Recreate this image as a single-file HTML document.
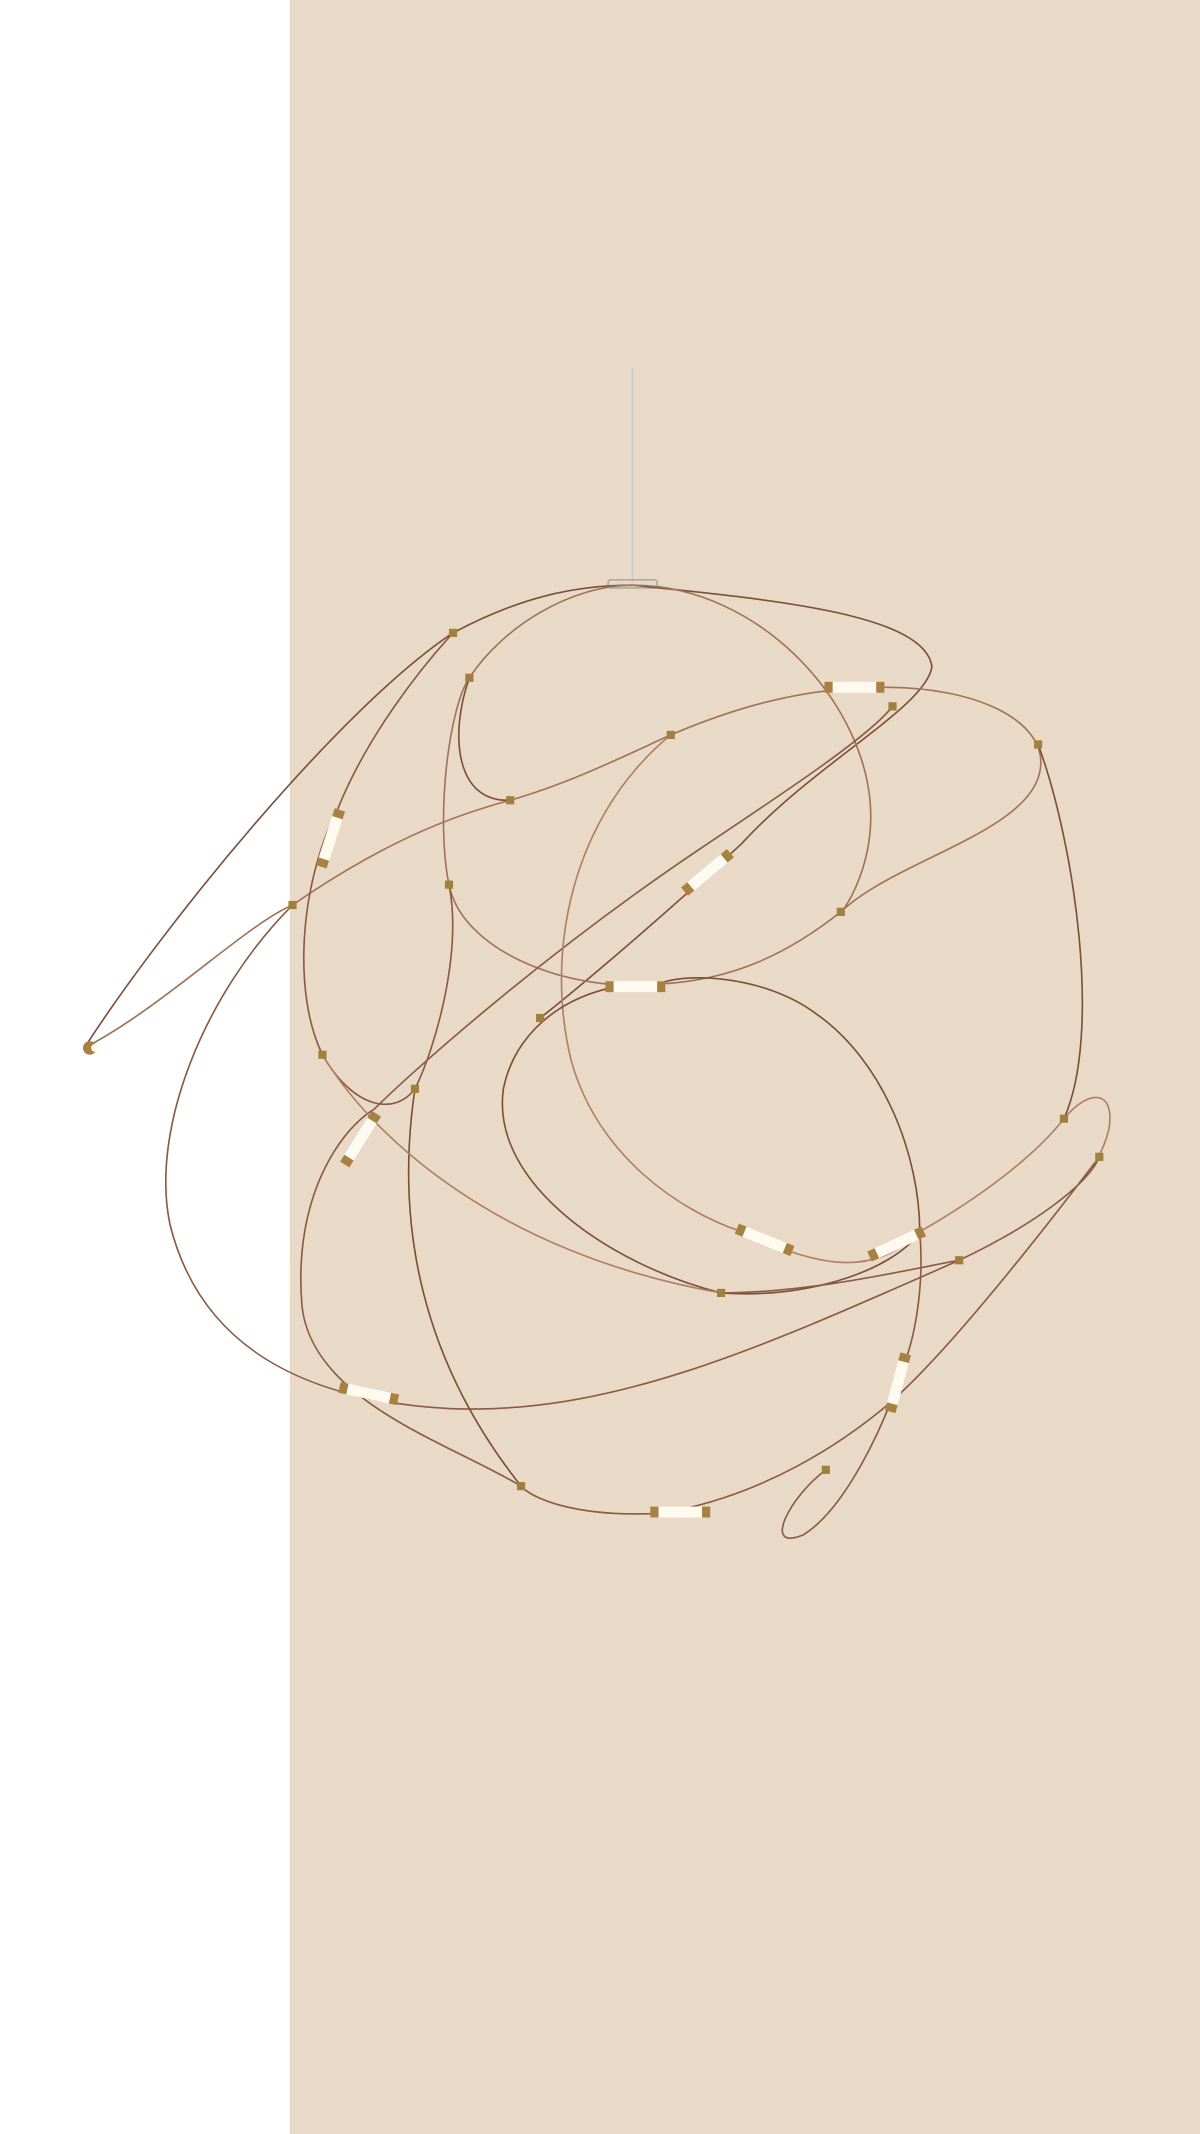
<!DOCTYPE html>
<html><head><meta charset="utf-8"><style>
html,body{margin:0;padding:0;width:1200px;height:2134px;background:#fff;overflow:hidden}
svg{display:block}
</style></head><body>
<svg width="1200" height="2134" viewBox="0 0 882 1568" preserveAspectRatio="none">
<rect x="0" y="0" width="882" height="1568" fill="#ffffff"/>
<rect x="213" y="0" width="669" height="1568" fill="#e8dac7"/>
<line x1="465" y1="270" x2="465" y2="428" stroke="#c9ced3" stroke-width="1.2"/>
<rect x="447" y="426" width="36" height="6" rx="2" fill="none" stroke="#a9a9a9" stroke-width="1.2"/>
<g fill="none" stroke-width="1.2" stroke-linecap="round">
<path stroke="#7a5038" d="M62,770 C120,680 250,520 333,465 C380,440 420,430 465,430 C560,440 680,450 685,490 C680,520 600,560 545,620 C480,680 420,730 397,748"/>
<path stroke="#a27258" d="M62,770 C120,740 180,680 215,665 C280,620 330,600 375,588 C420,575 460,555 493,540 C540,520 590,505 650,505 C720,505 765,530 765,560 C765,610 660,630 618,670 C580,700 540,720 485,723 C420,730 340,700 330,650 C320,600 330,520 345,498 C370,460 420,430 465,430 C560,430 640,520 640,600 C640,640 620,670 618,670"/>
<path stroke="#8a5a42" d="M215,665 C150,730 110,830 125,900 C150,1000 240,1030 330,1035 C450,1040 560,990 705,926 C760,900 800,870 808,850 C770,900 700,990 655,1030 C620,1060 560,1100 485,1112 C420,1115 390,1100 383,1092 C330,1060 230,1030 222,960 C215,880 250,830 275,815 C300,790 400,700 520,620 C580,580 640,540 656,519"/>
<path stroke="#7a5038" d="M345,498 C330,540 335,590 375,588"/>
<path stroke="#b07e66" d="M493,540 C420,600 400,700 420,780 C440,850 500,890 545,905 C600,930 640,940 676,905 C720,880 760,850 782,822 C800,800 820,800 815,830 C810,850 800,860 808,850"/>
<path stroke="#7a5038" d="M485,723 C430,720 380,750 370,800 C360,870 450,930 530,950 C600,955 660,930 676,905 C676,850 650,780 600,745 C560,715 500,715 485,723"/>
<path stroke="#7a5038" d="M763,547 C790,620 810,760 782,822"/>
<path stroke="#8a5a42" d="M330,650 C340,700 320,770 305,800 C290,820 260,815 237,775 C215,730 220,650 248,595 C270,540 310,490 333,465"/>
<path stroke="#7a5038" d="M305,800 C290,900 310,1000 383,1092"/>
<path stroke="#b07e66" d="M237,775 C270,830 360,920 530,950"/>
<path stroke="#8a5a42" d="M676,905 C680,950 670,990 665,1000 C650,1050 620,1110 590,1128 C560,1140 580,1100 607,1080"/>
<path stroke="#8a5a42" d="M530,950 C600,950 680,930 705,926"/>
</g>
<g>
<g transform="translate(628,505) rotate(0)"><rect x="-20" y="-4" width="40" height="8" rx="3" fill="#fffaf0"/><rect x="-22" y="-4" width="6" height="8" fill="#a88040"/><rect x="16" y="-4" width="6" height="8" fill="#a88040"/></g>
<g transform="translate(520,641) rotate(-40)"><rect x="-20" y="-4" width="40" height="8" rx="3" fill="#fffaf0"/><rect x="-22" y="-4" width="6" height="8" fill="#a88040"/><rect x="16" y="-4" width="6" height="8" fill="#a88040"/></g>
<g transform="translate(243,616) rotate(-72)"><rect x="-20" y="-4" width="40" height="8" rx="3" fill="#fffaf0"/><rect x="-22" y="-4" width="6" height="8" fill="#a88040"/><rect x="16" y="-4" width="6" height="8" fill="#a88040"/></g>
<g transform="translate(467,725) rotate(0)"><rect x="-20" y="-4" width="40" height="8" rx="3" fill="#fffaf0"/><rect x="-22" y="-4" width="6" height="8" fill="#a88040"/><rect x="16" y="-4" width="6" height="8" fill="#a88040"/></g>
<g transform="translate(265,837) rotate(-58)"><rect x="-20" y="-4" width="40" height="8" rx="3" fill="#fffaf0"/><rect x="-22" y="-4" width="6" height="8" fill="#a88040"/><rect x="16" y="-4" width="6" height="8" fill="#a88040"/></g>
<g transform="translate(562,911) rotate(22)"><rect x="-20" y="-4" width="40" height="8" rx="3" fill="#fffaf0"/><rect x="-22" y="-4" width="6" height="8" fill="#a88040"/><rect x="16" y="-4" width="6" height="8" fill="#a88040"/></g>
<g transform="translate(659,914) rotate(-25)"><rect x="-20" y="-4" width="40" height="8" rx="3" fill="#fffaf0"/><rect x="-22" y="-4" width="6" height="8" fill="#a88040"/><rect x="16" y="-4" width="6" height="8" fill="#a88040"/></g>
<g transform="translate(660,1016) rotate(-75)"><rect x="-20" y="-4" width="40" height="8" rx="3" fill="#fffaf0"/><rect x="-22" y="-4" width="6" height="8" fill="#a88040"/><rect x="16" y="-4" width="6" height="8" fill="#a88040"/></g>
<g transform="translate(271,1024) rotate(12)"><rect x="-20" y="-4" width="40" height="8" rx="3" fill="#fffaf0"/><rect x="-22" y="-4" width="6" height="8" fill="#a88040"/><rect x="16" y="-4" width="6" height="8" fill="#a88040"/></g>
<g transform="translate(500,1111) rotate(0)"><rect x="-20" y="-4" width="40" height="8" rx="3" fill="#fffaf0"/><rect x="-22" y="-4" width="6" height="8" fill="#a88040"/><rect x="16" y="-4" width="6" height="8" fill="#a88040"/></g>
<g transform="translate(66,770)"><circle r="5" fill="#a88040"/><circle cx="4" r="3" fill="#fffaf0"/></g>
</g>
<g fill="#a0803a">
<rect x="330" y="462" width="6" height="6"/><rect x="342" y="495" width="6" height="6"/><rect x="372" y="585" width="6" height="6"/>
<rect x="490" y="537" width="6" height="6"/><rect x="653" y="516" width="6" height="6"/><rect x="760" y="544" width="6" height="6"/>
<rect x="615" y="667" width="6" height="6"/><rect x="212" y="662" width="6" height="6"/><rect x="327" y="647" width="6" height="6"/>
<rect x="394" y="745" width="6" height="6"/><rect x="234" y="772" width="6" height="6"/><rect x="302" y="797" width="6" height="6"/>
<rect x="779" y="819" width="6" height="6"/><rect x="805" y="847" width="6" height="6"/><rect x="527" y="947" width="6" height="6"/>
<rect x="702" y="923" width="6" height="6"/><rect x="380" y="1089" width="6" height="6"/><rect x="604" y="1077" width="6" height="6"/>
</g>
</svg>
</body></html>
